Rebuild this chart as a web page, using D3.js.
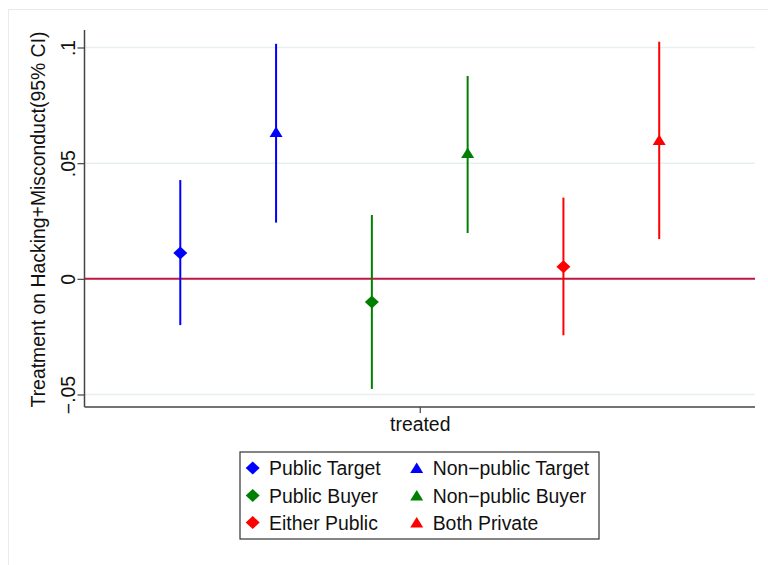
<!DOCTYPE html>
<html>
<head>
<meta charset="utf-8">
<script src="https://cdn.jsdelivr.net/npm/d3@7"></script>
<style>
  html, body { margin: 0; padding: 0; background: #fff; }
  svg { display: block; font-family: "Liberation Sans", Arial, Helvetica, sans-serif; }
</style>
</head>
<body>
<svg id="chart" width="768" height="565"></svg>
<script>
// Coefficient estimates with 95% confidence intervals, one per subsample
const seriesNames = ["Public Target", "Non\u2212public Target", "Public Buyer", "Non\u2212public Buyer", "Either Public", "Both Private"];
const seriesColors = ["#0000ff", "#0000ff", "#008000", "#008000", "#ff0000", "#ff0000"];
const seriesShapes = ["diamond", "triangle", "diamond", "triangle", "diamond", "triangle"];
const estimates = [0.0112, 0.0635, -0.0100, 0.0544, 0.0052, 0.0600];
const ciLower = [-0.0200, 0.0243, -0.0476, 0.0198, -0.0244, 0.0172];
const ciUpper = [0.0427, 0.1016, 0.0276, 0.0877, 0.0351, 0.1025];
const yTicks = [-0.05, 0, 0.05, 0.1];
const yTickLabels = ["\u2212.05", "0", ".05", ".1"];
const xCategory = "treated";
const yTitle = "Treatment on Hacking+Misconduct(95% CI)";

const FS = 19.4;
const svg = d3.select("#chart");
const plot = { left: 84.5, right: 755, top: 30, bottom: 407 };

// outer graph region frame
svg.append("rect")
  .attr("x", 8.5).attr("y", 9.5).attr("width", 820).attr("height", 620)
  .attr("fill", "none").attr("stroke", "#e6ebee").attr("stroke-width", 1);

const y = d3.scaleLinear().domain([-0.05, 0.1]).range([394.5, 47.5]);
// six series are offset around the single "treated" position
const offsets = seriesNames.map((d, i) => i - (seriesNames.length - 1) / 2);
const x = d3.scaleLinear().domain([-3.5, 3.5]).range([plot.left, plot.right]);

// gridlines
svg.append("g").selectAll("line").data(yTicks.filter(t => t !== 0)).join("line")
  .attr("x1", plot.left).attr("x2", plot.right)
  .attr("y1", d => y(d)).attr("y2", d => y(d))
  .attr("stroke", "#e8eff1").attr("stroke-width", 1.5);

// reference line at zero
svg.append("line")
  .attr("x1", plot.left).attr("x2", plot.right)
  .attr("y1", y(0)).attr("y2", y(0))
  .attr("stroke", "#c0163f").attr("stroke-width", 2);

// y axis
const yAxis = d3.axisLeft(y).tickValues(yTicks).tickSize(7)
  .tickFormat((d, i) => yTickLabels[i]);
const gy = svg.append("g").attr("transform", `translate(${plot.left},0)`).call(yAxis);
gy.select(".domain").attr("d", `M0,${plot.top}V${plot.bottom}`).attr("stroke", "#444").attr("stroke-width", 1.5);
gy.selectAll(".tick line").attr("stroke", "#444").attr("stroke-width", 1.2);
gy.selectAll(".tick text")
  .attr("x", null).attr("dy", null)
  .attr("transform", "translate(-9.5,0) rotate(-90)")
  .attr("text-anchor", "middle")
  .attr("fill", "#111").attr("font-size", FS)
  .style("font-family", "'Liberation Sans', Arial, sans-serif");

// x axis with a single category tick
const xAxis = d3.axisBottom(x).tickValues([0]).tickSize(6).tickFormat(() => xCategory);
const gx = svg.append("g").attr("transform", `translate(0,${plot.bottom})`).call(xAxis);
gx.select(".domain").attr("d", `M${plot.left},0H${plot.right}`).attr("stroke", "#444").attr("stroke-width", 1.5);
gx.selectAll(".tick line").attr("stroke", "#444").attr("stroke-width", 1.2);
gx.selectAll(".tick text").attr("dy", null).attr("y", 24)
  .attr("fill", "#111").attr("font-size", FS)
  .style("font-family", "'Liberation Sans', Arial, sans-serif");

// y axis title
svg.append("text")
  .attr("transform", `translate(45,${(plot.top + plot.bottom) / 2 + 1}) rotate(-90)`)
  .attr("text-anchor", "middle").attr("font-size", FS).attr("fill", "#111")
  .text(yTitle);

const data = seriesNames.map((name, i) => ({
  name, color: seriesColors[i], shape: seriesShapes[i],
  off: offsets[i], est: estimates[i], lo: ciLower[i], hi: ciUpper[i]
}));

function symbolPath(shape) {
  if (shape === "diamond") return "M0,-6.5L7,0L0,6.5L-7,0Z";
  return "M0,-5.5L6.5,5L-6.5,5Z";
}

// confidence interval spikes
svg.append("g").selectAll("line").data(data).join("line")
  .attr("x1", d => x(d.off)).attr("x2", d => x(d.off))
  .attr("y1", d => y(d.lo)).attr("y2", d => y(d.hi))
  .attr("stroke", d => d.color).attr("stroke-width", 2);

// point estimates
svg.append("g").selectAll("path").data(data).join("path")
  .attr("transform", d => `translate(${x(d.off)},${y(d.est)})`)
  .attr("d", d => symbolPath(d.shape))
  .attr("fill", d => d.color);

// legend
const legend = svg.append("g");
legend.append("rect")
  .attr("x", 240).attr("y", 452).attr("width", 359).attr("height", 87)
  .attr("fill", "#fff").attr("stroke", "#333").attr("stroke-width", 1.2);
const cols = [[252.7, 269], [416.7, 432.7]];
const rowY = [468, 495.5, 522.5];
data.forEach((d, i) => {
  const c = cols[i % 2], r = rowY[Math.floor(i / 2)];
  legend.append("path")
    .attr("transform", `translate(${c[0]},${r})`)
    .attr("d", symbolPath(d.shape)).attr("fill", d.color);
  legend.append("text")
    .attr("x", c[1]).attr("y", r + 7)
    .attr("font-size", FS).attr("fill", "#111")
    .text(d.name);
});
</script>
</body>
</html>
